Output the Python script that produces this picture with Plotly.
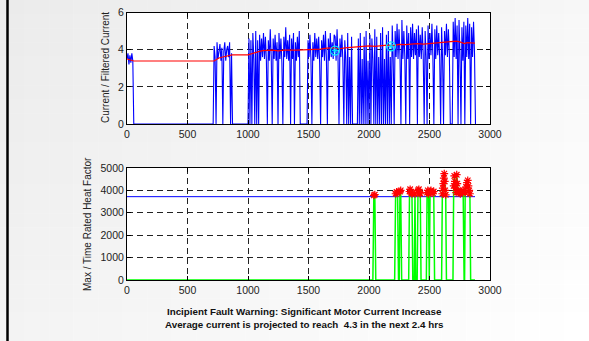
import plotly.graph_objects as go

# ---------------- data ----------------
sample_step = 8  # samples of the motor current, one value every 8 time units

# motor current, segments: (first x, values) -- zero runs between segments
seg_a_start = 0
seg_a = [3.5, 3.8, 3.2, 3.7, 3.3, 3.8, 3.4, 0]
seg_b_start = 712
seg_b = [0, 4.2, 3.6, 0, 4.4, 3.5, 3.9, 4.3, 3.4, 4.1, 0, 3.9, 4.4, 3.4, 4.0, 4.2, 3.6, 4.4, 0, 3.8, 0]
seg_c_start = 1000
seg_c = [0, 4.6, 0, 4.5, 0, 4.9, 3.5, 0, 5.0, 0, 4.5, 0, 4.8, 3.4, 4.6, 3.6, 4.9, 3.5, 4.7, 3.4, 0,
         4.5, 3.4, 5.1, 3.6, 0, 4.6, 3.5, 4.8, 3.4, 4.4, 0, 4.9, 3.5, 4.6, 3.3, 0, 4.7, 3.6, 5.2, 3.5,
         4.5, 3.4, 4.8, 0, 4.6, 3.5, 4.9, 0, 4.4, 3.4, 4.7, 3.6, 5.0, 0]
seg_d_start = 1488
seg_d = [0, 4.5, 3.6, 4.8, 3.5, 0, 4.4, 3.4, 4.9, 3.6, 4.6, 3.5, 4.7, 3.3, 0, 4.5, 3.6, 4.8, 3.4, 5.0,
         3.5, 0, 4.6, 3.4, 4.9, 3.6, 4.4, 3.5, 4.8, 4.7, 3.4, 5.1, 3.5, 0, 4.6, 3.6, 4.8, 3.4, 0, 4.5,
         3.5, 0, 4.9, 0, 3.6, 0, 4.7, 0]
seg_e_start = 1904
seg_e = [0, 4.6, 0, 4.9, 0, 3.5, 0, 4.7, 0, 5.0, 0, 3.4, 0, 4.8, 0, 4.6, 3.5, 0, 5.1, 0,
         4.7, 0, 3.6, 0, 4.9, 0, 5.2, 0, 3.5, 0, 4.8, 0, 5.0, 0, 3.6, 0, 5.3, 3.5, 0, 5.0,
         3.6, 5.4, 3.5, 5.1, 3.7, 0, 5.6, 3.5, 5.0, 3.6, 0, 5.3, 3.5, 4.9, 0, 5.2, 3.6, 5.4, 3.5, 4.9,
         3.7, 5.1, 0, 5.3, 3.6, 4.8, 3.5, 5.2, 3.7, 0, 5.0, 3.6, 0, 5.3, 3.5, 4.9, 3.7, 5.4, 3.6, 0,
         5.1, 3.5, 5.3, 3.7, 4.9, 3.6, 0, 5.2, 3.5, 0, 5.0, 3.7, 5.4, 3.6, 5.1, 3.8, 0]
seg_f_start = 2688
seg_f = [0, 5.5, 3.6, 5.7, 3.5, 5.3, 0, 5.6, 3.7, 0, 5.2, 3.4, 5.5, 0, 5.3, 3.6, 5.7, 3.5, 5.4, 0,
         5.2, 3.6, 5.5, 3.8, 0]

# filtered (average) current
filt_x = [0, 40, 56, 720, 760, 800, 870, 1000, 1040, 1080, 1120, 1200, 1250, 1300, 1400, 1500,
          1560, 1600, 1650, 1700, 1760, 1800, 1850, 1900, 1950, 2000, 2050, 2100, 2150, 2200,
          2250, 2300, 2350, 2400, 2450, 2500, 2550, 2600, 2630, 2690, 2720, 2750, 2770, 2790,
          2810, 2840, 2876]
filt_y = [3.5, 3.45, 3.39, 3.39, 3.55, 3.62, 3.72, 3.72, 3.78, 3.88, 3.95, 3.97, 3.93, 3.97,
          3.98, 4.0, 4.0, 4.03, 4.08, 4.1, 4.05, 4.1, 4.12, 4.15, 4.17, 4.2, 4.18, 4.22, 4.24,
          4.22, 4.28, 4.27, 4.3, 4.32, 4.3, 4.33, 4.35, 4.38, 4.42, 4.42, 4.46, 4.42, 4.38, 4.33,
          4.38, 4.36, 4.35]

# flagged points (cyan)
flag_x = [1719, 2182]
flag_y = [3.95, 4.18]

# heat factor
heat_x = [0, 2032, 2040, 2048, 2056,
          2212, 2220, 2228, 2236, 2244, 2250, 2256, 2262, 2270,
          2328, 2335, 2340, 2348, 2355, 2362, 2374, 2380, 2386,
          2398, 2405, 2412, 2418, 2424, 2430,
          2474, 2480, 2486, 2492, 2498, 2505, 2512, 2520, 2528, 2535, 2542,
          2600, 2606, 2610, 2614, 2618, 2622, 2626, 2630, 2634, 2640,
          2694, 2700, 2705, 2710, 2715, 2720, 2725, 2730, 2735, 2740, 2748, 2755, 2762, 2770, 2778, 2786,
          2790, 2795, 2802, 2810, 2816, 2822, 2828, 2834, 2840, 2876]
heat_y = [0, 0, 3780, 3810, 0,
          0, 3850, 3930, 3880, 0, 0, 3950, 4000, 0,
          0, 3950, 4050, 3900, 3850, 0, 0, 3850, 0,
          0, 4000, 4050, 3900, 3850, 0,
          0, 3900, 4000, 3850, 0, 3950, 4000, 3900, 3880, 3950, 0,
          0, 3850, 4100, 4300, 4550, 4750, 4400, 4000, 3800, 0,
          0, 4200, 4650, 4400, 4100, 3900, 4700, 4300, 4000, 3950, 3900, 3850, 3950, 3900, 4000, 0,
          0, 3900, 4150, 4350, 4450, 4200, 4000, 3850, 0, 0]

limit_x = [0, 2876]
limit_y = [3720, 3720]

x_ticks = [0, 500, 1000, 1500, 2000, 2500, 3000]
y1_ticks = [0, 2, 4, 6]
y2_ticks = [0, 1000, 2000, 3000, 4000, 5000]

title_lines = ["Incipient Fault Warning: Significant Motor Current Increase",
               "Average current is projected to reach  4.3 in the next 2.4 hrs"]

# ---------------- build ----------------
cur_x, cur_y = [], []
for start, vals in [(seg_a_start, seg_a), (seg_b_start, seg_b), (seg_c_start, seg_c),
                    (seg_d_start, seg_d), (seg_e_start, seg_e), (seg_f_start, seg_f)]:
    for i, v in enumerate(vals):
        cur_x.append(start + sample_step * i)
        cur_y.append(v)

star_x = [x for x, y in zip(heat_x, heat_y) if y > 0]
star_y = [y for y in heat_y if y > 0]

W, H = 589, 341
FONT = "Liberation Sans, Arial, Helvetica, sans-serif"

fig = go.Figure()
fig.add_trace(go.Scatter(x=cur_x, y=cur_y, mode="lines",
                         line=dict(color="#0000ff", width=1.1, simplify=False),
                         xaxis="x", yaxis="y", hoverinfo="skip"))
fig.add_trace(go.Scatter(x=filt_x, y=filt_y, mode="lines", line=dict(color="#ff0000", width=1.2),
                         xaxis="x", yaxis="y"))
fig.add_trace(go.Scatter(x=flag_x, y=flag_y, mode="markers",
                         marker=dict(symbol="circle-open", size=9, color="#00e5ff", line=dict(width=1.3, color="#00e5ff")),
                         xaxis="x", yaxis="y"))
fig.add_trace(go.Scatter(x=flag_x, y=flag_y, mode="markers",
                         marker=dict(symbol="asterisk-open", size=5, color="#00e5ff", line=dict(width=1.0, color="#00e5ff")),
                         xaxis="x", yaxis="y"))

fig.add_trace(go.Scatter(x=limit_x, y=limit_y, mode="lines", line=dict(color="#0000ff", width=1),
                         xaxis="x2", yaxis="y2"))
fig.add_trace(go.Scatter(x=heat_x, y=heat_y, mode="lines",
                         line=dict(color="#00ff00", width=1.5, simplify=False),
                         xaxis="x2", yaxis="y2"))
fig.add_trace(go.Scatter(x=star_x, y=star_y, mode="markers",
                         marker=dict(symbol="asterisk-open", size=6.5, color="#ff0000", line=dict(width=1.2, color="#ff0000")),
                         xaxis="x2", yaxis="y2"))

def px_x(p):
    return p / W

def px_y(p):
    return 1 - p / H

axis_common = dict(showline=True, linecolor="black", linewidth=1, mirror="ticks",
                   ticks="inside", ticklen=4, tickcolor="black", showgrid=True,
                   gridcolor="#222222", gridwidth=1, griddash="6px,4px", zeroline=False,
                   tickfont=dict(family=FONT, size=10.5, color="#222222"), fixedrange=True,
                   automargin=False)

xdom = [px_x(127), px_x(490)]
y1dom = [px_y(124), px_y(12.5)]
y2dom = [px_y(280), px_y(168)]
fig.update_layout(
    width=W, height=H, autosize=False, showlegend=False,
    margin=dict(l=0, r=0, t=0, b=0, pad=0, autoexpand=False),
    paper_bgcolor="white", plot_bgcolor="white",
    xaxis=dict(domain=xdom, range=[0, 3000], tickvals=x_ticks, anchor="y", **axis_common),
    yaxis=dict(domain=y1dom, range=[0, 6], tickvals=y1_ticks, anchor="x", **axis_common),
    xaxis2=dict(domain=xdom, range=[0, 3000], tickvals=x_ticks, anchor="y2", **axis_common),
    yaxis2=dict(domain=y2dom, range=[0, 5000], tickvals=y2_ticks, anchor="x2", **axis_common),
)

# background: soft diagonal grey gradient (darker top-left), built from thin translucent strips
N = 24
for i in range(N):
    a = 0.047 * (1 - (i + 0.5) / N)
    fig.add_shape(type="rect", xref="paper", yref="paper", x0=i / N, x1=(i + 1) / N, y0=0, y1=1,
                  fillcolor=f"rgba(0,0,0,{a:.4f})", line=dict(width=0), layer="below")
for i in range(N):
    a = 0.031 * (1 - (i + 0.5) / N)
    fig.add_shape(type="rect", xref="paper", yref="paper", x0=0, x1=1, y0=1 - (i + 1) / N, y1=1 - i / N,
                  fillcolor=f"rgba(0,0,0,{a:.4f})", line=dict(width=0), layer="below")
for dom in (y1dom, y2dom):
    fig.add_shape(type="rect", xref="paper", yref="paper", x0=xdom[0], x1=xdom[1], y0=dom[0], y1=dom[1],
                  fillcolor="white", line=dict(width=0), layer="below")

fig.add_shape(type="line", xref="paper", yref="paper", x0=px_x(7.5), x1=px_x(7.5), y0=0, y1=1,
              line=dict(color="black", width=2.5))

fig.add_annotation(text="Current / Filtered Current", xref="paper", yref="paper",
                   x=px_x(105), y=px_y(68), textangle=-90, showarrow=False,
                   xanchor="center", yanchor="middle",
                   font=dict(family=FONT, size=10, color="#222222"))
fig.add_annotation(text="Max / Time Rated Heat Factor", xref="paper", yref="paper",
                   x=px_x(87), y=px_y(224), textangle=-90, showarrow=False,
                   xanchor="center", yanchor="middle",
                   font=dict(family=FONT, size=10, color="#222222"))
fig.add_annotation(text="<b>" + "<br>".join(title_lines) + "</b>", xref="paper", yref="paper",
                   x=px_x(304), y=px_y(318), showarrow=False, align="center",
                   xanchor="center", yanchor="middle",
                   font=dict(family=FONT, size=9.8, color="#111111"))

fig.write_html("out.html", config={"displayModeBar": False})
